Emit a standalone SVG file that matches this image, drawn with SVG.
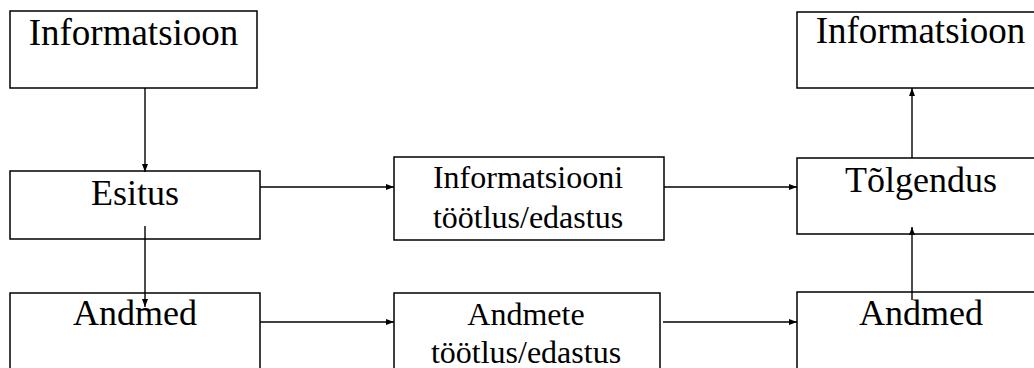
<svg xmlns="http://www.w3.org/2000/svg" width="1034" height="368" viewBox="0 0 1034 368">
  <style>
    .box { fill: #ffffff; stroke: #000000; stroke-width: 1.5; }
    text { font-family: 'Liberation Serif', 'Times New Roman', Tinos, 'DejaVu Serif', serif; fill: #000000; text-anchor: middle; }
    .big { font-size: 36px; }
    .big37 { font-size: 37px; }
    .small { font-size: 32px; }
    .link { stroke: #000000; stroke-width: 1.4; fill: none; marker-end: url(#arrow); }
  </style>
  <defs>
    <marker id="arrow" markerUnits="userSpaceOnUse" markerWidth="9" markerHeight="7" refX="8" refY="3.5" orient="auto">
      <path d="M0,0.5 L8,3.5 L0,6.5 z" fill="#000000"/>
    </marker>
  </defs>
  <rect x="0" y="0" width="1034" height="368" fill="#ffffff"/>

  <g id="informatsioon-sisend">
    <rect class="box" x="10" y="11" width="247" height="77"/>
    <text class="big37" x="133.5" y="45">Informatsioon</text>
  </g>

  <g id="esitus">
    <rect class="box" x="10" y="171" width="250" height="68"/>
    <text class="big" x="135" y="205">Esitus</text>
  </g>

  <g id="andmed-sisend">
    <rect class="box" x="10" y="293" width="250" height="90"/>
    <text class="big" x="135" y="325">Andmed</text>
  </g>

  <g id="informatsiooni-tootlus">
    <rect class="box" x="394" y="157" width="270" height="83"/>
    <text class="small" x="528" y="188">Informatsiooni</text>
    <text class="small" x="528" y="228">töötlus/edastus</text>
  </g>

  <g id="andmete-tootlus">
    <rect class="box" x="394" y="293" width="266" height="90"/>
    <text class="small" x="526" y="325">Andmete</text>
    <text class="small" x="526" y="363">töötlus/edastus</text>
  </g>

  <g id="informatsioon-valjund">
    <rect class="box" x="797" y="12" width="248" height="76"/>
    <text class="big37" x="920.5" y="43">Informatsioon</text>
  </g>

  <g id="tolgendus">
    <rect class="box" x="797" y="158" width="248" height="76"/>
    <text class="big" x="921" y="192">Tõlgendus</text>
  </g>

  <g id="andmed-valjund">
    <rect class="box" x="797" y="292" width="248" height="90"/>
    <text class="big" x="921" y="325">Andmed</text>
  </g>

  <g id="connectors">
    <line class="link" x1="145" y1="88" x2="145" y2="172"/>
    <line class="link" x1="145" y1="226" x2="145" y2="307"/>
    <line class="link" x1="260" y1="187" x2="394" y2="187"/>
    <line class="link" x1="664" y1="187" x2="797" y2="187"/>
    <line class="link" x1="260" y1="322" x2="394" y2="322"/>
    <line class="link" x1="663" y1="322" x2="797" y2="322"/>
    <line class="link" x1="912" y1="158" x2="912" y2="88"/>
    <line class="link" x1="912" y1="300" x2="912" y2="227"/>
  </g>
</svg>
